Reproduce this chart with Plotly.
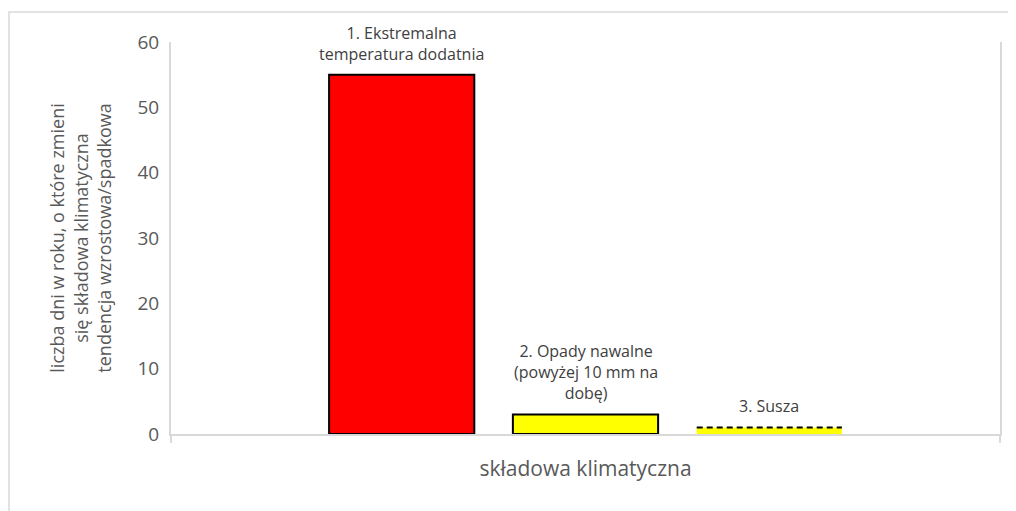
import plotly.graph_objects as go

categories = ["1. Ekstremalna<br>temperatura dodatnia",
              "2. Opady nawalne<br>(powyżej 10 mm na<br>dobę)",
              "3. Susza"]
values = [55, 3, 1]
fill_colors = ["#FF0000", "#FFFF00", "#FFFF00"]
outline_widths = [2, 2, 0]
dashed_top = [False, False, True]

y_ticks = [0, 10, 20, 30, 40, 50, 60]
x_title = "składowa klimatyczna"
y_title = "liczba dni w roku, o które zmieni<br>się składowa klimatyczna<br>tendencja wzrostowa/spadkowa"

FONT = "Open Sans"
bar_width = 0.79
positions = list(range(1, len(categories) + 1))
x_range = [positions[0] - 1.255, positions[-1] + 1.255]

fig = go.Figure()
fig.add_trace(go.Bar(
    x=positions, y=values, width=bar_width,
    marker=dict(color=fill_colors, line=dict(color="#000000", width=outline_widths)),
    showlegend=False, hoverinfo="y"))

for p, v, d in zip(positions, values, dashed_top):
    if d:
        fig.add_trace(go.Scatter(
            x=[p - bar_width / 2, p + bar_width / 2], y=[v, v], mode="lines",
            line=dict(color="#000000", width=2, dash="6px,4px"),
            showlegend=False, hoverinfo="skip"))

for p, v, c in zip(positions, values, categories):
    fig.add_annotation(x=p, y=v, text=c, showarrow=False, yanchor="bottom",
                       yshift=8, font=dict(family=FONT, size=16, color="#404040"))

# figure is offset by the page's 8px body margin
W, H = 1008, 503
ML, MR, MT, MB = 163, 16, 34, 77
pw, ph = W - ML - MR, H - MT - MB

# outer chart border
fig.add_shape(type="rect", xref="paper", yref="paper",
              x0=(1 - ML) / pw, x1=(W + 10 - ML) / pw,
              y0=-(MB + 10) / ph, y1=(ph + MT - 4) / ph,
              line=dict(color="#d9d9d9", width=1.5), layer="below")

fig.update_layout(
    width=W, height=H,
    margin=dict(l=ML, r=MR, t=MT, b=MB, autoexpand=False),
    paper_bgcolor="white", plot_bgcolor="white",
    font=dict(family=FONT, color="#595959"),
    xaxis=dict(range=x_range, tickvals=x_range, ticktext=["", ""],
               ticks="outside", ticklen=7, tickcolor="#d9d9d9", tickwidth=2,
               showline=True, linecolor="#d9d9d9", linewidth=2,
               showgrid=False, zeroline=False,
               title=dict(text=x_title, font=dict(family=FONT, size=21, color="#595959"), standoff=17)),
    yaxis=dict(range=[0, 60], tickvals=y_ticks, showgrid=False, zeroline=False,
               showline=True, mirror=True, linecolor="#d9d9d9", linewidth=2,
               tickfont=dict(family=FONT, size=19, color="#595959"), ticks="", ticklabelstandoff=6,
               title=dict(text=y_title, font=dict(family=FONT, size=18, color="#595959"), standoff=21)),
)

fig.write_html("out.html")
